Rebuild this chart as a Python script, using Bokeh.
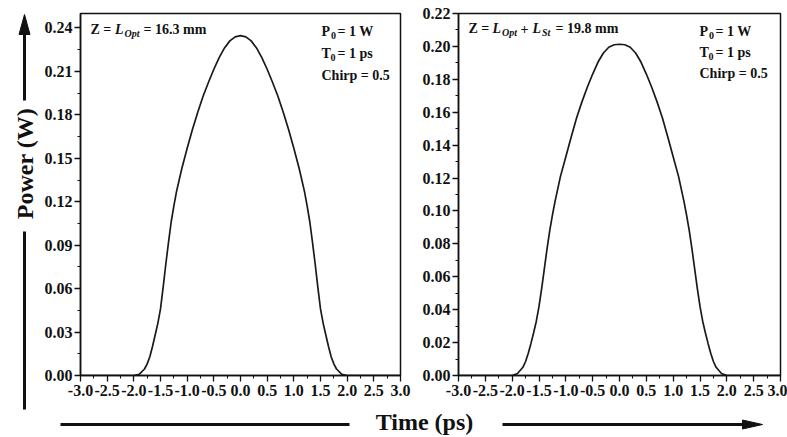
import math

from bokeh.core.properties import value
from bokeh.embed import file_html
from bokeh.layouts import column, row
from bokeh.models import FixedTicker, Label, NumeralTickFormatter, Range1d
from bokeh.plotting import figure
from bokeh.resources import INLINE

# ---------------------------------------------------------------------------
# Pulse power profiles (W) versus time (ps)
# ---------------------------------------------------------------------------
time_ps = [-3.0, -2.5, -2.1, -2.0, -1.9, -1.8, -1.75, -1.7, -1.65, -1.6, -1.55,
           -1.5, -1.45, -1.4, -1.35, -1.3, -1.25, -1.2, -1.1, -1.0, -0.9, -0.8,
           -0.7, -0.6, -0.5, -0.4, -0.3, -0.2, -0.1, 0.0, 0.1, 0.2, 0.3, 0.4,
           0.5, 0.6, 0.7, 0.8, 0.9, 1.0, 1.1, 1.2, 1.25, 1.3, 1.35, 1.4, 1.45,
           1.5, 1.55, 1.6, 1.65, 1.7, 1.75, 1.8, 1.9, 2.0, 2.1, 2.5, 3.0]

# Z = L_Opt = 16.3 mm
power_opt = [0.0, 0.0, 0.0, 0.0, 0.0008, 0.0045, 0.008, 0.013, 0.020, 0.028,
             0.036, 0.046, 0.061, 0.077, 0.092, 0.106, 0.117, 0.127, 0.143,
             0.157, 0.170, 0.182, 0.193, 0.2025, 0.2115, 0.2195, 0.2262,
             0.2311, 0.2339, 0.2347, 0.2339, 0.2311, 0.2262, 0.2195, 0.2115,
             0.2025, 0.193, 0.182, 0.170, 0.157, 0.143, 0.127, 0.117, 0.106,
             0.092, 0.077, 0.061, 0.046, 0.036, 0.028, 0.020, 0.013, 0.008,
             0.0045, 0.0008, 0.0, 0.0, 0.0, 0.0]

# Z = L_Opt + L_St = 19.8 mm
power_st = [0.0, 0.0, 0.0, 0.0, 0.0012, 0.0050, 0.0085, 0.0135, 0.0195,
            0.0260, 0.0330, 0.0420, 0.0530, 0.0650, 0.0770, 0.0880, 0.0975,
            0.1060, 0.1210, 0.1330, 0.1450, 0.1565, 0.1663, 0.1752, 0.1832,
            0.1905, 0.1960, 0.1995, 0.2010, 0.2013, 0.2010, 0.1995, 0.1960,
            0.1905, 0.1832, 0.1752, 0.1663, 0.1565, 0.1450, 0.1330, 0.1210,
            0.1060, 0.0975, 0.0880, 0.0770, 0.0650, 0.0530, 0.0420, 0.0330,
            0.0260, 0.0195, 0.0135, 0.0085, 0.0050, 0.0012, 0.0, 0.0, 0.0, 0.0]

# Axis ticks
x_ticks = [-3.0, -2.5, -2.0, -1.5, -1.0, -0.5, 0.0, 0.5, 1.0, 1.5, 2.0, 2.5, 3.0]
x_minor = [-2.75, -2.25, -1.75, -1.25, -0.75, -0.25, 0.25, 0.75, 1.25, 1.75,
           2.25, 2.75]
y_ticks_opt = [0.0, 0.03, 0.06, 0.09, 0.12, 0.15, 0.18, 0.21, 0.24]
y_minor_opt = [0.015, 0.045, 0.075, 0.105, 0.135, 0.165, 0.195, 0.225]
y_ticks_st = [0.0, 0.02, 0.04, 0.06, 0.08, 0.10, 0.12, 0.14, 0.16, 0.18, 0.20,
              0.22]
y_minor_st = [0.01, 0.03, 0.05, 0.07, 0.09, 0.11, 0.13, 0.15, 0.17, 0.19, 0.21]

FONT = "Liberation Serif"
INK = "#111111"
H_TOP = 405          # height of the two panel figures
TOTAL_H = 437


def panel(width, border_left, border_right, y_max, yt, ym):
    p = figure(width=width, height=H_TOP, output_backend="svg",
               toolbar_location=None, x_range=Range1d(-3.0, 3.0),
               y_range=Range1d(0.0, y_max), min_border=0,
               min_border_left=border_left, min_border_right=border_right,
               min_border_top=13, min_border_bottom=30)
    p.grid.visible = False
    p.outline_line_color = INK
    p.outline_line_width = 1.5
    p.background_fill_color = "white"
    p.border_fill_color = "white"

    p.xaxis.ticker = FixedTicker(ticks=x_ticks, minor_ticks=x_minor)
    p.xaxis.formatter = NumeralTickFormatter(format="0.0")
    p.yaxis.ticker = FixedTicker(ticks=yt, minor_ticks=ym)
    p.yaxis.formatter = NumeralTickFormatter(format="0.00")
    for ax in (p.xaxis, p.yaxis):
        ax.axis_line_color = INK
        ax.axis_line_width = 1.5
        ax.major_tick_line_color = INK
        ax.minor_tick_line_color = INK
        ax.major_tick_line_width = 1.3
        ax.minor_tick_line_width = 1.1
        ax.major_tick_in = 0
        ax.major_tick_out = 6
        ax.minor_tick_in = 0
        ax.minor_tick_out = 3
        ax.major_label_text_font = FONT
        ax.major_label_text_font_style = "bold"
        ax.major_label_text_font_size = "16px"
        ax.major_label_text_color = INK
    p.xaxis.major_label_standoff = 3
    p.yaxis.major_label_standoff = 2
    return p


def add_text(p, conv, px, py, text, size="14px", style="bold"):
    x, y = conv(px, py)
    p.add_layout(Label(x=x, y=y, text=text, text_font=FONT,
                       text_font_style=style, text_font_size=size,
                       text_color=INK, text_align="left",
                       text_baseline="middle"))


# ---- left panel: Z = L_Opt ------------------------------------------------
p1 = panel(372, 40, 12, 0.25, y_ticks_opt, y_minor_opt)
p1.line(time_ps, power_opt, line_color="#1a1a1a", line_width=1.7)


def conv1(px, py):
    return -3.0 + (px - 80) * 6.0 / 320.0, (375 - py) * 0.25 / 362.0


add_text(p1, conv1, 90, 29, "Z =")
add_text(p1, conv1, 114.5, 29, "L", style="bold italic")
add_text(p1, conv1, 124, 33, "Opt", size="10px", style="bold italic")
add_text(p1, conv1, 143, 29, "= 16.3 mm")

# ---- right panel: Z = L_Opt + L_St ------------------------------------------
p2 = panel(375, 46, 7, 0.22, y_ticks_st, y_minor_st)
p2.line(time_ps, power_st, line_color="#1a1a1a", line_width=1.7)


def conv2(px, py):
    return -3.0 + (px - 458) * 6.0 / 322.0, (375 - py) * 0.22 / 362.0


add_text(p2, conv2, 468, 28, "Z =")
add_text(p2, conv2, 492, 28, "L", style="bold italic")
add_text(p2, conv2, 501.5, 32, "Opt", size="10px", style="bold italic")
add_text(p2, conv2, 520, 28, "+")
add_text(p2, conv2, 532, 28, "L", style="bold italic")
add_text(p2, conv2, 541.5, 32, "St", size="10px", style="bold italic")
add_text(p2, conv2, 555, 28, "= 19.8 mm")

# Pulse parameters in the upper right corner of each panel
for p, conv, x0, rows in ((p1, conv1, 321, (31, 53, 75)),
                          (p2, conv2, 699, (31, 52, 73))):
    add_text(p, conv, x0, rows[0], "P")
    add_text(p, conv, x0 + 9.5, rows[0] + 4, "0", size="10px")
    add_text(p, conv, x0 + 16, rows[0], "= 1 W")
    add_text(p, conv, x0, rows[1], "T")
    add_text(p, conv, x0 + 9, rows[1] + 4, "0", size="10px")
    add_text(p, conv, x0 + 16, rows[1], "= 1 ps")
    add_text(p, conv, x0, rows[2], "Chirp = 0.5")

# ---- vertical title strip with arrow ---------------------------------------
side = figure(width=40, height=TOTAL_H, output_backend="svg",
              toolbar_location=None, x_range=Range1d(0, 40),
              y_range=Range1d(0, TOTAL_H), min_border=0)
side.axis.visible = False
side.grid.visible = False
side.outline_line_color = None
ax_x = 24
side.line([ax_x, ax_x], [TOTAL_H - 100, TOTAL_H - 32], line_color=INK,
          line_width=3)
side.patch([ax_x - 5.5, ax_x + 5.5, ax_x],
           [TOTAL_H - 34, TOTAL_H - 34, TOTAL_H - 14], color=INK)
side.text(x=[ax_x], y=[TOTAL_H - 163], text=["Power (W)"], angle=math.pi / 2,
          text_align="center", text_baseline="middle",
          text_font=value(FONT), text_font_style="bold",
          text_font_size="24px", text_color=INK)
side.line([ax_x, ax_x], [TOTAL_H - 231, TOTAL_H - 409], line_color=INK,
          line_width=3)

# ---- horizontal title strip with arrow -------------------------------------
BH = TOTAL_H - H_TOP
bottom = figure(width=747, height=BH, output_backend="svg",
                toolbar_location=None, x_range=Range1d(40, 787),
                y_range=Range1d(0, BH), min_border=0)
bottom.axis.visible = False
bottom.grid.visible = False
bottom.outline_line_color = None
yl = TOTAL_H - 424
bottom.line([60, 349], [yl, yl], line_color=INK, line_width=3)
bottom.line([502, 745], [yl, yl], line_color=INK, line_width=3)
bottom.patch([742, 742, 762], [yl - 4.5, yl + 4.5, yl], color=INK)
bottom.text(x=[424], y=[TOTAL_H - 421], text=["Time (ps)"],
            text_align="center", text_baseline="middle",
            text_font=value(FONT), text_font_style="bold",
            text_font_size="24px", text_color=INK)

layout = row(side, column(row(p1, p2), bottom))

open("out.html", "w").write(file_html(layout, INLINE))
